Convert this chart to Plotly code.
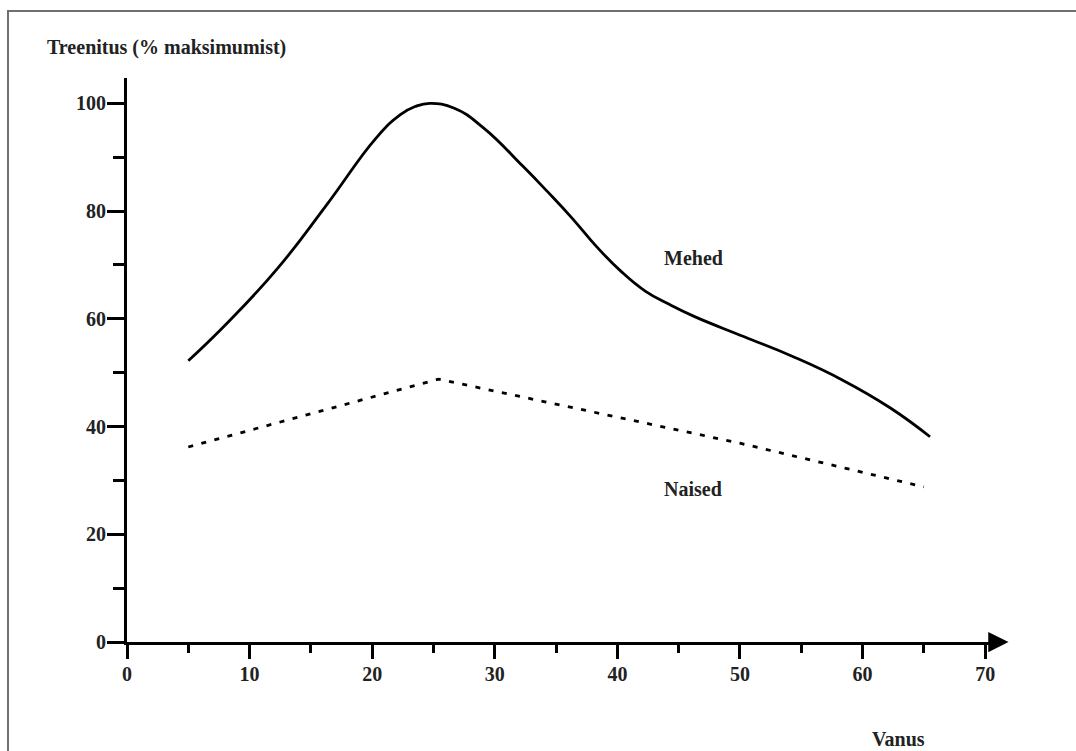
import plotly.graph_objects as go

# Data
age_men = [5, 8.3, 12.3, 16.3, 20.3, 22.3, 23.5, 24.7, 26.7, 29.1, 32.3, 34.3, 36.3, 38.3, 40.3, 42.3, 44.3, 46.3, 50.3, 54.3, 58.3, 62.3, 65.5]
men = [52.2, 59.5, 69.4, 81.2, 93.5, 97.9, 99.4, 100.0, 99.1, 95.4, 88.3, 83.6, 78.7, 73.4, 68.8, 65.1, 62.6, 60.4, 56.7, 53.0, 48.7, 43.4, 38.1]
age_women = [5, 25.4, 50, 65]
women = [36.2, 48.8, 36.9, 28.8]

x_ticks = [0, 10, 20, 30, 40, 50, 60, 70]
y_ticks = [0, 20, 40, 60, 80, 100]

FONT = "Liberation Serif"
TXT = "#222222"
FS = 20

fig = go.Figure()
fig.add_trace(go.Scatter(x=age_men, y=men, mode="lines", line=dict(color="black", width=2.8, shape="spline", smoothing=1.3),
                         hoverinfo="skip", showlegend=False))
fig.add_trace(go.Scatter(x=age_women, y=women, mode="lines", line=dict(color="black", width=2.8, dash="5px,8.5px"),
                         hoverinfo="skip", showlegend=False))

W, H = 1076, 751
L, R, T, B = 127, 995, 78, 642

fig.update_layout(
    width=W, height=H,
    margin=dict(l=L, r=W - R, t=T, b=H - B, pad=0),
    paper_bgcolor="white", plot_bgcolor="white",
    font=dict(family=FONT, size=FS, color=TXT),
    showlegend=False,
)
fig.update_xaxes(
    range=[0, 70.8], tickvals=x_ticks, showgrid=False, zeroline=False,
    showline=True, linecolor="black", linewidth=3,
    ticks="outside", ticklen=14, tickwidth=3, tickcolor="black",
    minor=dict(dtick=5, tick0=0, ticks="outside", ticklen=8, tickwidth=3, tickcolor="black", showgrid=False),
    tickfont=dict(family=FONT, size=FS, color=TXT, weight="bold"), ticklabelstandoff=-2,
)
fig.update_yaxes(
    range=[0, 104.7], tickvals=y_ticks, showgrid=False, zeroline=False,
    showline=True, linecolor="black", linewidth=3,
    ticks="outside", ticklen=17, tickwidth=3, tickcolor="black",
    minor=dict(dtick=10, tick0=0, ticks="outside", ticklen=11, tickwidth=3, tickcolor="black", showgrid=False),
    tickfont=dict(family=FONT, size=FS, color=TXT, weight="bold"), ticklabelstandoff=-3,
)

pw, ph = R - L, B - T
def px(xp):
    return (xp - L) / pw
def py(yp):
    return (B - yp) / ph

annots = [
    dict(text="<b>Treenitus (% maksimumist)</b>", x=px(45), y=py(47.5), xref="paper", yref="paper",
         xanchor="left", yanchor="middle", showarrow=False),
    dict(text="<b>Vanus</b>", x=62.9, y=py(739), xref="x", yref="paper",
         xanchor="center", yanchor="middle", showarrow=False),
    dict(text="<b>Mehed</b>", x=46.2, y=71.3, xref="x", yref="y",
         xanchor="center", yanchor="middle", showarrow=False),
    dict(text="<b>Naised</b>", x=46.2, y=28.4, xref="x", yref="y",
         xanchor="center", yanchor="middle", showarrow=False),
    dict(text="", x=71.9, y=0, ax=70.6, ay=0, xref="x", yref="y", axref="x", ayref="y",
         showarrow=True, arrowhead=2, arrowsize=1.35, arrowwidth=3, arrowcolor="black", standoff=0),
]
fig.update_layout(annotations=annots)

fig.add_shape(type="rect", xref="paper", yref="paper",
              x0=px(8), y0=py(800), x1=px(1100), y1=py(11),
              line=dict(color="#707070", width=2), fillcolor="rgba(0,0,0,0)", layer="above")

fig.write_html("out.html", config={"displayModeBar": False, "staticPlot": True},
               post_script="document.body.style.margin='0px';document.body.style.overflow='hidden';")
